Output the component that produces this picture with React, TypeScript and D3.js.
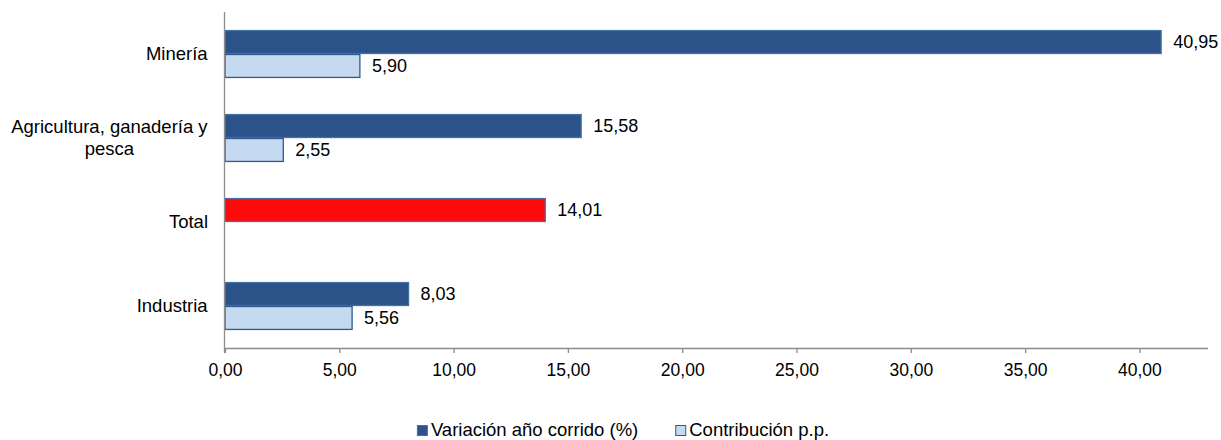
import { useEffect, useRef } from "react";
import * as d3 from "d3";

const categories = ["Minería", "Agricultura, ganadería y pesca", "Total", "Industria"];
const categoryLines = [["Minería"], ["Agricultura, ganadería y", "pesca"], ["Total"], ["Industria"]];
const variacion = [40.95, 15.58, 14.01, 8.03];
const contribucion: (number | null)[] = [5.9, 2.55, null, 5.56];
const seriesNames = ["Variación año corrido (%)", "Contribución p.p."];
const xTicks = [0, 5, 10, 15, 20, 25, 30, 35, 40];
const highlight = "Total";

const fmt = (v: number) => v.toFixed(2).replace(".", ",");

const App = () => {
  const svgRef = useRef<SVGSVGElement | null>(null);

  useEffect(() => {
    d3.select(svgRef.current).selectAll("*").remove();

    const width = 1221;
    const height = 440;
    const margin = { top: 12, right: 13, bottom: 92, left: 225 };
    const font = "'Liberation Sans', Arial, sans-serif";

    const svg = d3
      .select(svgRef.current)
      .attr("width", width)
      .attr("height", height)
      .style("font-family", font);

    const x = d3
      .scaleLinear()
      .domain([0, 43])
      .range([margin.left, width - margin.right]);

    const y = d3
      .scaleBand()
      .domain(categories)
      .range([margin.top, height - margin.bottom])
      .paddingInner(0.43)
      .paddingOuter(0.215);

    const ys = d3
      .scaleBand()
      .domain(seriesNames)
      .range([0, y.bandwidth()]);

    const colors = ["#2c5389", "#c5d9f1"];
    const strokes = ["#4470a8", "#2f5a90"];

    const rows = categories.map((c, i) => ({
      cat: c,
      vals: [variacion[i], contribucion[i]],
    }));

    const g = svg.append("g");
    rows.forEach((r) => {
      r.vals.forEach((v, si) => {
        if (v === null) return;
        const y0 = (y(r.cat) || 0) + (ys(seriesNames[si]) || 0);
        g.append("rect")
          .attr("x", x(0))
          .attr("y", y0 + 0.5)
          .attr("width", x(v) - x(0))
          .attr("height", ys.bandwidth() - 1)
          .attr("fill", r.cat === highlight ? "#ff0a0a" : colors[si])
          .attr("stroke", r.cat === highlight ? "#4a6ea0" : strokes[si])
          .attr("stroke-width", 1.3);
        g.append("text")
          .attr("x", x(v) + 12)
          .attr("y", y0 + ys.bandwidth() / 2 + 6)
          .attr("font-size", 18)
          .attr("fill", "#000")
          .text(fmt(v));
      });
    });

    // eje vertical
    svg
      .append("line")
      .attr("x1", x(0) - 0.5)
      .attr("x2", x(0) - 0.5)
      .attr("y1", margin.top)
      .attr("y2", height - margin.bottom + 5)
      .attr("stroke", "#8c8c8c")
      .attr("stroke-width", 1.3);

    // eje x
    const axisY = height - margin.bottom;
    const xAxis = svg
      .append("g")
      .attr("transform", `translate(0,${axisY})`)
      .call(
        d3
          .axisBottom(x)
          .tickValues(xTicks)
          .tickSize(5)
          .tickPadding(11)
          .tickFormat((d) => fmt(+d)),
      );
    xAxis
      .select(".domain")
      .attr("stroke", "#8c8c8c")
      .attr("stroke-width", 1.3)
      .attr("d", `M${x(0)},0.5H${width - margin.right}`);
    xAxis.selectAll(".tick line").attr("stroke", "#8c8c8c").attr("stroke-width", 1.3);
    xAxis
      .selectAll(".tick text")
      .attr("font-family", font)
      .attr("font-size", 17.5)
      .attr("fill", "#000");

    // etiquetas de categorias
    categories.forEach((c, i) => {
      const lines = categoryLines[i];
      const cy = (y(c) || 0) + y.bandwidth() / 2;
      const lh = 22;
      const t = svg
        .append("text")
        .attr("font-size", 18.5)
        .attr("fill", "#000")
        .attr("text-anchor", "middle");
      lines.forEach((ln, li) => {
        t.append("tspan")
          .attr("x", 0)
          .attr("y", cy + 6 + (li - (lines.length - 1) / 2) * lh)
          .text(ln);
      });
      const w = (t.node() as SVGTextElement).getBBox().width;
      t.selectAll("tspan").attr("x", x(0) - 17 - w / 2);
    });

    // leyenda
    const leg = svg.append("g");
    const gap = 37;
    let lx = 0;
    seriesNames.forEach((s, i) => {
      leg
        .append("rect")
        .attr("x", lx + 0.5)
        .attr("y", -10.5)
        .attr("width", 10)
        .attr("height", 10)
        .attr("fill", colors[i])
        .attr("stroke", strokes[i])
        .attr("stroke-width", 1);
      const t = leg
        .append("text")
        .attr("x", lx + 14)
        .attr("y", 0)
        .attr("font-size", 18.5)
        .attr("fill", "#000")
        .text(s);
      lx += 14 + (t.node() as SVGTextElement).getComputedTextLength() + gap;
    });
    const lw = lx - gap;
    leg.attr("transform", `translate(${623 - lw / 2},436)`);
  });

  return (
    <div style={{ position: "fixed", top: 0, left: 0, background: "#fff" }}>
      <svg ref={svgRef} style={{ display: "block" }} />
    </div>
  );
};

export default App;
